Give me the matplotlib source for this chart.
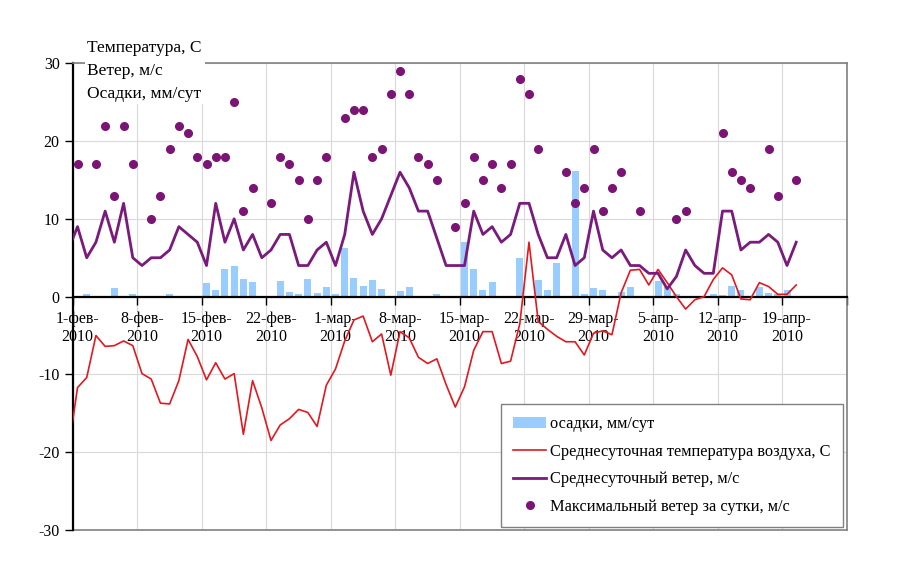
import matplotlib

matplotlib.use("Agg")

import matplotlib.dates as mdates
import matplotlib.pyplot as plt
import numpy as np
import pandas as pd

plt.rcParams["font.family"] = ["Liberation Serif", "DejaVu Serif"]
plt.rcParams["axes.unicode_minus"] = False

nan = np.nan

# daily values, 31 Jan 2010 .. 20 Apr 2010 (31 Jan is only partly visible at the left edge)
dates = pd.date_range("2010-01-31", "2010-04-20", freq="D")

temp = [
    -19.9,
    -11.7, -10.4, -5.0, -6.4, -6.3, -5.7, -6.3, -9.9, -10.6, -13.7,
    -13.8, -10.8, -5.5, -7.7, -10.7, -8.5, -10.6, -9.9, -17.7, -10.8,
    -14.3, -18.5, -16.5, -15.7, -14.5, -14.9, -16.7, -11.4, -9.3, -5.7,
    -3.0, -2.5, -5.8, -4.8, -10.1, -4.5, -5.3, -7.8, -8.6, -8.0,
    -11.3, -14.2, -11.6, -6.9, -4.5, -4.5, -8.6, -8.3, -3.5, 7.0,
    -3.2, -4.2, -5.1, -5.8, -5.8, -7.5, -4.7, -4.4, -4.9, 0.5,
    3.4, 3.5, 1.5, 3.5, 1.8, 0.0, -1.6, -0.4, 0.0, 2.2,
    3.7, 2.8, -0.3, -0.4, 1.8, 1.3, 0.3, 0.3, 1.5,
]

wind = [
    6,
    9, 5, 7, 11, 7, 12, 5, 4, 5, 5,
    6, 9, 8, 7, 4, 12, 7, 10, 6, 8,
    5, 6, 8, 8, 4, 4, 6, 7, 4, 8,
    16, 11, 8, 10, 13, 16, 14, 11, 11, 7.5,
    4, 4, 4, 11, 8, 9, 7, 8, 12, 12,
    8, 5, 5, 8, 4, 5, 11, 6, 5, 6,
    4, 4, 3, 3, 1, 2.6, 6, 4, 3, 3,
    11, 11, 6, 7, 7, 8, 7, 4, 7,
]

wind_max = [
    nan,
    17, nan, 17, 22, 13, 22, 17, nan, 10, 13,
    19, 22, 21, 18, 17, 18, 18, 25, 11, 14,
    nan, 12, 18, 17, 15, 10, 15, 18, nan, 23,
    24, 24, 18, 19, 26, 29, 26, 18, 17, 15,
    nan, 9, 12, 18, 15, 17, 14, 17, 28, 26,
    19, nan, nan, 16, 12, 14, 19, 11, 14, 16,
    nan, 11, nan, nan, nan, 10, 11, nan, nan, nan,
    21, 16, 15, 14, nan, 19, 13, nan, 15,
]

precip = [
    0,
    0, 0.4, 0, 0, 1.1, 0, 0.4, 0, 0, 0,
    0.3, 0, 0, 0, 1.75, 0.8, 3.55, 4.0, 2.3, 1.9,
    0, 0, 2.0, 0.6, 0.3, 2.3, 0.5, 1.3, 0.3, 6.2,
    2.35, 1.35, 2.2, 1.0, 0, 0.7, 1.2, 0, 0, 0.4,
    0, 0, 7.0, 3.6, 0.9, 1.9, 0, 0, 5.0, 0,
    2.1, 0.9, 4.3, 0, 16.2, 0.3, 1.1, 0.8, 0, 0.6,
    1.3, 0, 0, 2.0, 1.2, 0.3, 0, 0, 0, 0.4,
    0.2, 1.35, 0.85, 0, 1.3, 0.5, 0.4, 0.9, 0,
]

month_ru = {2: "фев", 3: "мар", 4: "апр"}
tick_dates = pd.date_range("2010-02-01", "2010-04-26", freq="7D")
label_dates = tick_dates[:-1]
tick_labels = [f"{d.day}-{month_ru[d.month]}-\n{d.year}" for d in label_dates]

x = mdates.date2num(dates) + 0.5

fig = plt.figure(figsize=(9, 5.76), dpi=100)
ax = fig.add_axes([0.081, 0.080, 0.860, 0.810])

bars = ax.bar(x, precip, width=0.76, color="#99ccff", label="осадки, мм/сут", zorder=2)
t_line, = ax.plot(x, temp, color="#e3181f", lw=1.2,
                  label="Среднесуточная температура воздуха, С", zorder=3)
w_line, = ax.plot(x, wind, color="#7a1a7c", lw=2.0,
                  label="Среднесуточный ветер, м/с", zorder=4)
m_dots, = ax.plot(x, np.array(wind_max, dtype=float), ls="none", marker="o", ms=5.5,
                  color="#7b1474", label="Максимальный ветер за сутки, м/с", zorder=5)

ax.set_xlim(mdates.date2num(tick_dates[0]), mdates.date2num(tick_dates[-1]))
ax.set_ylim(-30, 30)
ax.set_yticks(range(-30, 31, 10))

ax.set_xticks(mdates.date2num(tick_dates))
ax.set_xticklabels([])
ax.set_xticks(mdates.date2num(label_dates) + 0.5, minor=True)
ax.set_xticklabels(tick_labels, minor=True, linespacing=1.2)
ax.tick_params(axis="x", which="major", length=6, width=1, direction="out")
ax.tick_params(axis="x", which="minor", length=0, pad=10, labelsize=11.5)
ax.tick_params(axis="y", length=6, width=1, direction="out", labelsize=11.5)

ax.grid(True, which="major", color="#d9d9d9", lw=0.8)
ax.set_axisbelow(True)

ax.spines["bottom"].set_position(("data", 0))
for side in ("bottom", "left"):
    ax.spines[side].set_color("black")
    ax.spines[side].set_linewidth(1.6)
for side in ("top", "right"):
    ax.spines[side].set_color("#808080")
    ax.spines[side].set_linewidth(1.2)
ax.axhline(-30, color="#808080", lw=1.2, clip_on=False, zorder=1)

fig.text(0.097, 0.93, "Температура, С\nВетер, м/с\nОсадки, мм/сут",
         fontsize=12.5, va="top", ha="left", linespacing=1.55,
         bbox=dict(facecolor="white", edgecolor="none", pad=2))

leg = ax.legend(handles=[bars, t_line, w_line, m_dots],
                loc="lower right", bbox_to_anchor=(0.995, 0.006), fontsize=11.8,
                fancybox=False, edgecolor="#808080", framealpha=1,
                handlelength=2.0, handletextpad=0.25, labelspacing=0.7,
                borderpad=0.75, borderaxespad=0)
leg.get_frame().set_linewidth(1.0)

fig.savefig("out.png", dpi=100)
plt.close(fig)
